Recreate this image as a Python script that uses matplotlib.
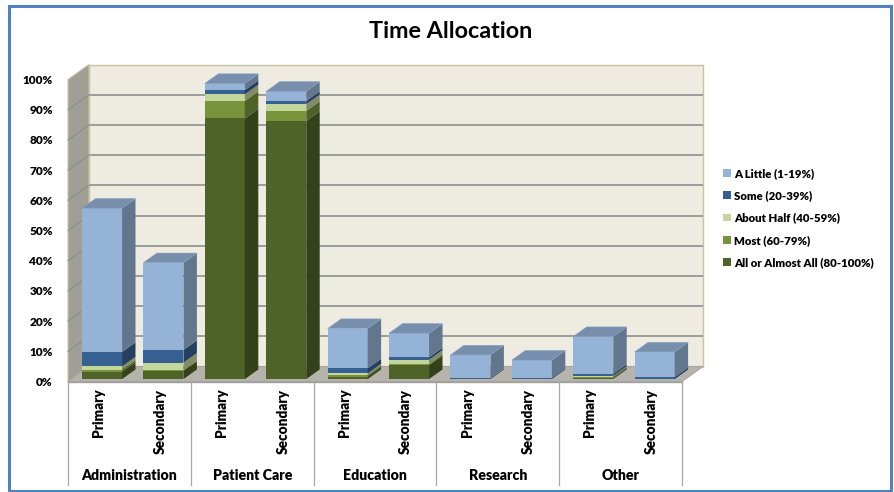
import matplotlib
matplotlib.use("Agg")
import matplotlib.pyplot as plt
from matplotlib.patches import Polygon, Rectangle, Patch
import matplotlib.colors as mcolors
import numpy as np

plt.rcParams['font.family'] = ['Lato', 'DejaVu Sans']

# ---------------- data ----------------
groups = ["Administration", "Patient Care", "Education", "Research", "Other"]
subcats = ["Primary", "Secondary"]
series_names = ["All or Almost All (80-100%)", "Most (60-79%)", "About Half (40-59%)",
                "Some (20-39%)", "A Little (1-19%)"]
all_almost = [2.4, 2.7, 86.3, 85.5, 0.8, 4.6, 0.0, 0.0, 0.3, 0.0]
most = [0.7, 0.3, 5.8, 3.3, 0.45, 0.4, 0.0, 0.0, 0.5, 0.0]
about_half = [1.1, 2.45, 2.2, 2.2, 0.65, 1.4, 0.0, 0.0, 0.3, 0.0]
some = [4.8, 4.2, 1.4, 1.1, 1.65, 0.8, 0.3, 0.3, 0.6, 0.6]
a_little = [47.6, 28.9, 2.2, 3.2, 13.2, 8.0, 7.7, 6.0, 12.4, 8.4]
yticks = list(range(0, 101, 10))
ytick_labels = [f"{v}%" for v in yticks]

series = [all_almost, most, about_half, some, a_little]
colors = ["#4F6228", "#77933C", "#C3D69B", "#366092", "#95B3D7"]

# ---------------- figure ----------------
W, H = 895, 492
fig = plt.figure(figsize=(W / 100, H / 100), dpi=100)
fig.patch.set_facecolor("white")

ax_left, ax_right = 68, 682
ax_bottom_px, ax_top_px = 381.5, 79.5
ax = fig.add_axes([ax_left / W, 1 - ax_bottom_px / H,
                   (ax_right - ax_left) / W, (ax_bottom_px - ax_top_px) / H])
n = len(a_little)
xmin, xmax = -0.5, n - 0.5
ax.set_xlim(xmin, xmax)
ax.set_ylim(0, 100)
for s in ax.spines.values():
    s.set_visible(False)
ax.patch.set_alpha(0)

# depth projection (data units)
px_per_x = (ax_right - ax_left) / n
px_per_y = (ax_bottom_px - ax_top_px) / 100
DX = 21 / px_per_x
DY = 15 / px_per_y
z0, z1 = 0.16, 0.80
bw = 40 / px_per_x

def shade(c, f):
    r, g, b = mcolors.to_rgb(c)
    return (r * f, g * f, b * f)

# back wall
ax.add_patch(Polygon([(xmin + DX, DY), (xmax + DX, DY), (xmax + DX, 100 + DY), (xmin + DX, 100 + DY)],
                     closed=True, facecolor="#EEEBE0", edgecolor="#C9C3A6", lw=1.0,
                     clip_on=False, zorder=0))
for v in yticks[1:-1]:
    ax.plot([xmin + DX, xmax + DX], [v + DY, v + DY], color="#9C9C9C", lw=1.4,
            clip_on=False, zorder=1, solid_capstyle="butt")
# side wall
ax.add_patch(Polygon([(xmin, 0), (xmin + DX, DY), (xmin + DX, 100 + DY), (xmin, 100)],
                     closed=True, facecolor="#A09F96", edgecolor="#C9C3A6", lw=0.8,
                     clip_on=False, zorder=1))
for v in yticks[1:-1]:
    ax.plot([xmin, xmin + DX], [v, v + DY], color="#8C8B83", lw=0.7,
            clip_on=False, zorder=1.5)
# floor
ax.add_patch(Polygon([(xmin, 0), (xmax, 0), (xmax + DX, DY), (xmin + DX, DY)],
                     closed=True, facecolor="#B6B3AC", edgecolor="#A8A59E", lw=0.8,
                     clip_on=False, zorder=2))
ax.plot([xmin, xmax], [0, 0], color="#A0A0A0", lw=1.0, clip_on=False, zorder=2)

# bars
x = np.arange(n)
fx = x + z0 * DX
fy0 = z0 * DY
ddx = (z1 - z0) * DX
ddy = (z1 - z0) * DY
bottoms = np.zeros(n)
for vals, col in zip(series, colors):
    vals = np.array(vals, dtype=float)
    mask = vals > 0
    ax.bar(fx[mask], vals[mask], width=bw, bottom=bottoms[mask] + fy0, color=col,
           edgecolor="none", zorder=5, clip_on=False)
    for i in np.where(mask)[0]:
        b = bottoms[i] + fy0
        t = b + vals[i]
        xr = fx[i] + bw / 2
        ax.add_patch(Polygon([(xr, b), (xr + ddx, b + ddy), (xr + ddx, t + ddy), (xr, t)],
                             closed=True, facecolor=shade(col, 0.66), edgecolor="none",
                             clip_on=False, zorder=5))
    bottoms = bottoms + vals
# top faces
for i in range(n):
    c = None
    for vals, col in zip(series, colors):
        if vals[i] > 0:
            c = col
    t = bottoms[i] + fy0
    xl = fx[i] - bw / 2
    xr = fx[i] + bw / 2
    ax.add_patch(Polygon([(xl, t), (xr, t), (xr + ddx, t + ddy), (xl + ddx, t + ddy)],
                         closed=True, facecolor=shade(c, 0.80), edgecolor=shade(c, 0.9), lw=0.4,
                         clip_on=False, zorder=6))

# axes ticks
ax.set_yticks(yticks)
ax.set_yticklabels(ytick_labels, fontsize=8.5, fontweight="heavy")
ax.tick_params(axis="y", length=0, pad=11)
ax.set_xticks([])

# category labels and separators
for i in range(n):
    ax.text(x[i], -2.4, subcats[i % 2], rotation=90, ha="center", va="top",
            fontsize=9.8, fontweight="heavy", clip_on=False)
for g, name in enumerate(groups):
    ax.text(2 * g + 0.5, -31, name, ha="center", va="center", fontsize=10.2,
            fontweight="heavy", clip_on=False)
for k in range(len(groups) + 1):
    xs = xmin + 2 * k
    ax.plot([xs, xs], [0, -34.3], color="#A6A6A6", lw=0.9, clip_on=False, zorder=2)

# title
fig.text(451 / W, 1 - 32 / H, "Time Allocation", ha="center", va="center",
         fontsize=16.8, fontweight="bold")

# legend
handles = [Patch(facecolor=c, edgecolor="none", label=l)
           for c, l in zip(colors[::-1], series_names[::-1])]
fig.legend(handles=handles, loc="center left", bbox_to_anchor=(713 / W, 1 - 218 / H),
           frameon=False, handlelength=0.65, handleheight=0.65,
           handletextpad=0.3, labelspacing=1.0, prop={"weight": "heavy", "size": 8.2})

# outer frame
fig.add_artist(Rectangle((9.5 / W, 1 - 490.5 / H), (891.5 - 9.5) / W, (490.5 - 6) / H,
                         transform=fig.transFigure, fill=False, edgecolor="#4F81BD", lw=2.2))

fig.savefig("out.png", dpi=100)
